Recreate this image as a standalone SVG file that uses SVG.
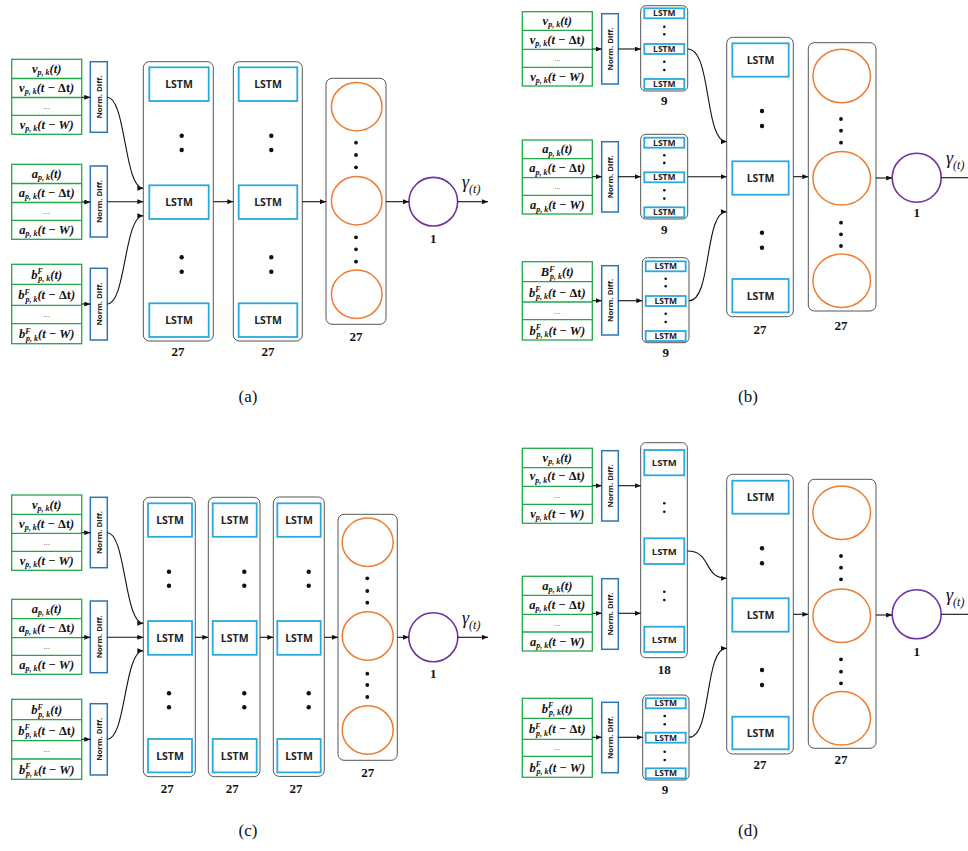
<svg xmlns="http://www.w3.org/2000/svg" width="968" height="851" viewBox="0 0 968 851">
<style>
.tb{fill:none;stroke:#22a84b;stroke-width:1.3}
.nd{fill:#fff;stroke:#2e75b6;stroke-width:1.5}
.ndt{font-family:"Open Sans","Liberation Sans",sans-serif;font-weight:700;font-size:7.8px;text-anchor:middle;fill:#222}
.col{fill:#fff;stroke:#555;stroke-width:1}
.ls{fill:#fff;stroke:#2aa9e0;stroke-width:1.8}
.lt{font-family:"Open Sans","Liberation Sans",sans-serif;font-weight:700;font-size:10.5px;text-anchor:middle;fill:#222}
.lts{font-size:8.5px}
.ci{fill:none;stroke:#ed7d31;stroke-width:1.5}
.out{fill:none;stroke:#7030a0;stroke-width:1.6}
.dot{fill:#111}
.num{font-family:"Liberation Serif","DejaVu Serif",serif;font-weight:700;font-size:13px;text-anchor:middle;fill:#111}
.m{font-family:"Liberation Serif","DejaVu Serif",serif;font-weight:700;font-style:italic;font-size:12.5px;text-anchor:middle;fill:#111}
.s{font-size:8px}
.n{font-style:normal}
.e{font-family:"Liberation Sans",sans-serif;font-size:8px;text-anchor:middle;fill:#444}
.cap{font-family:"Liberation Serif","DejaVu Serif",serif;font-size:17px;text-anchor:middle;fill:#111}
.g{font-family:"Liberation Serif","DejaVu Serif",serif;font-style:italic;font-size:18px;fill:#111}
.gs{font-size:12px}
.cn{fill:none;stroke:#111;stroke-width:1.1}
</style>
<defs>
<marker id="ah" markerUnits="userSpaceOnUse" markerWidth="6" markerHeight="5" refX="6" refY="2.5" orient="auto"><path d="M0,0 L6,2.5 L0,5 z" fill="#111"/></marker>
</defs>
<rect width="968" height="851" fill="#fff"/>

<!-- ===== Panel (a) ===== -->
<g id="a-tab-v" transform="translate(11.7,59.3)">
<rect class="tb" width="70" height="75"/><path class="tb" d="M0 19.2H70M0 38.2H70M0 56H70"/>
<text class="m" x="35" y="13.5">v<tspan class="s" dy="2.5">p, k</tspan><tspan dy="-2.5">(t)</tspan></text>
<text class="m" x="35" y="32.5">v<tspan class="s" dy="2.5">p, k</tspan><tspan dy="-2.5">(t − <tspan class="n">Δt</tspan>)</tspan></text>
<text class="e" x="35" y="49.5">...</text>
<text class="m" x="35" y="69.5">v<tspan class="s" dy="2.5">p, k</tspan><tspan dy="-2.5">(t − W)</tspan></text>
</g>
<g id="a-tab-a" transform="translate(11.7,164.3)">
<rect class="tb" width="70" height="75"/><path class="tb" d="M0 19.2H70M0 38.2H70M0 56H70"/>
<text class="m" x="35" y="13.5">a<tspan class="s" dy="2.5">p, k</tspan><tspan dy="-2.5">(t)</tspan></text>
<text class="m" x="35" y="32.5">a<tspan class="s" dy="2.5">p, k</tspan><tspan dy="-2.5">(t − <tspan class="n">Δt</tspan>)</tspan></text>
<text class="e" x="35" y="49.5">...</text>
<text class="m" x="35" y="69.5">a<tspan class="s" dy="2.5">p, k</tspan><tspan dy="-2.5">(t − W)</tspan></text>
</g>
<g id="a-tab-b" transform="translate(11.7,264.3)">
<rect class="tb" width="70" height="79.4"/><path class="tb" d="M0 20H70M0 41H70M0 59.3H70"/>
<text class="m" x="35" y="14.5">b<tspan class="s" dy="-4.5">F</tspan><tspan class="s" dx="-4.5" dy="7">p, k</tspan><tspan dy="-2.5">(t)</tspan></text>
<text class="m" x="35" y="35">b<tspan class="s" dy="-4.5">F</tspan><tspan class="s" dx="-4.5" dy="7">p, k</tspan><tspan dy="-2.5">(t − <tspan class="n">Δt</tspan>)</tspan></text>
<text class="e" x="35" y="52.5">...</text>
<text class="m" x="35" y="74">b<tspan class="s" dy="-4.5">F</tspan><tspan class="s" dx="-4.5" dy="7">p, k</tspan><tspan dy="-2.5">(t − W)</tspan></text>
</g>
<g id="a-norm-1"><rect class="nd" x="90.3" y="61.7" width="17" height="70.6"/><text class="ndt" transform="translate(98.8,97) rotate(-90)" y="2.8">Norm. Diff.</text></g>
<g id="a-norm-2"><rect class="nd" x="90.3" y="166" width="17" height="71"/><text class="ndt" transform="translate(98.8,201.5) rotate(-90)" y="2.8">Norm. Diff.</text></g>
<g id="a-norm-3"><rect class="nd" x="90.3" y="268.3" width="17" height="71.7"/><text class="ndt" transform="translate(98.8,304) rotate(-90)" y="2.8">Norm. Diff.</text></g>
<g id="a-lstm-1">
<rect class="col" x="143.3" y="61.7" width="70" height="279.3" rx="6"/>
<rect class="ls" x="149.3" y="67.3" width="59.4" height="33.7"/><text class="lt" x="179" y="88">LSTM</text>
<rect class="ls" x="149.3" y="185.3" width="59.4" height="33.7"/><text class="lt" x="179" y="206">LSTM</text>
<rect class="ls" x="149.3" y="303.3" width="59.4" height="33.7"/><text class="lt" x="179" y="324">LSTM</text>
<circle class="dot" cx="181.7" cy="135.7" r="2.2"/><circle class="dot" cx="181.7" cy="150" r="2.2"/><circle class="dot" cx="181.7" cy="257.3" r="2.2"/><circle class="dot" cx="181.7" cy="271.7" r="2.2"/>
<text class="num" x="178" y="356">27</text>
</g>
<g id="a-lstm-2">
<rect class="col" x="233.3" y="61.7" width="69" height="279.3" rx="6"/>
<rect class="ls" x="238.7" y="67.3" width="58.6" height="33.7"/><text class="lt" x="268" y="88">LSTM</text>
<rect class="ls" x="238.7" y="185.3" width="58.6" height="33.7"/><text class="lt" x="268" y="206">LSTM</text>
<rect class="ls" x="238.7" y="303.3" width="58.6" height="33.7"/><text class="lt" x="268" y="324">LSTM</text>
<circle class="dot" cx="271.3" cy="135.7" r="2.2"/><circle class="dot" cx="271.3" cy="150" r="2.2"/><circle class="dot" cx="271.3" cy="257.3" r="2.2"/><circle class="dot" cx="271.3" cy="271.7" r="2.2"/>
<text class="num" x="268" y="356">27</text>
</g>
<g id="a-dense">
<rect class="col" x="326" y="78.3" width="60" height="246" rx="6"/>
<ellipse class="ci" cx="356.7" cy="106.7" rx="25.3" ry="24.2"/><ellipse class="ci" cx="356.7" cy="200.7" rx="25.3" ry="24.2"/><ellipse class="ci" cx="356.7" cy="294.3" rx="25.3" ry="24.2"/>
<circle class="dot" cx="356" cy="142.7" r="1.9"/><circle class="dot" cx="356" cy="155" r="1.9"/><circle class="dot" cx="356" cy="167.3" r="1.9"/>
<circle class="dot" cx="356" cy="237.3" r="1.9"/><circle class="dot" cx="356" cy="249.3" r="1.9"/><circle class="dot" cx="356" cy="261.7" r="1.9"/>
<text class="num" x="356" y="341">27</text>
</g>
<g id="a-out">
<circle class="out" cx="433.3" cy="201.7" r="24.3"/>
<text class="num" x="433.3" y="243">1</text>
<text class="g" x="462" y="188">γ<tspan class="gs" dy="5">(t)</tspan></text>
</g>
<text class="cap" x="248" y="402">(a)</text>

<!-- ===== Panel (b) ===== -->
<g id="b-tab-v" transform="translate(522.3,11.7)">
<rect class="tb" width="70" height="74.3"/><path class="tb" d="M0 18.6H70M0 37.6H70M0 55.6H70"/>
<text class="m" x="35" y="13.2">v<tspan class="s" dy="2.5">p, k</tspan><tspan dy="-2.5">(t)</tspan></text>
<text class="m" x="35" y="32">v<tspan class="s" dy="2.5">p, k</tspan><tspan dy="-2.5">(t − <tspan class="n">Δt</tspan>)</tspan></text>
<text class="e" x="35" y="49">...</text>
<text class="m" x="35" y="69">v<tspan class="s" dy="2.5">p, k</tspan><tspan dy="-2.5">(t − W)</tspan></text>
</g>
<g id="b-tab-a" transform="translate(522.3,140)">
<rect class="tb" width="70" height="74"/><path class="tb" d="M0 18.7H70M0 37.7H70M0 55.3H70"/>
<text class="m" x="35" y="13.2">a<tspan class="s" dy="2.5">p, k</tspan><tspan dy="-2.5">(t)</tspan></text>
<text class="m" x="35" y="32">a<tspan class="s" dy="2.5">p, k</tspan><tspan dy="-2.5">(t − <tspan class="n">Δt</tspan>)</tspan></text>
<text class="e" x="35" y="49">...</text>
<text class="m" x="35" y="69">a<tspan class="s" dy="2.5">p, k</tspan><tspan dy="-2.5">(t − W)</tspan></text>
</g>
<g id="b-tab-b" transform="translate(522.3,261.7)">
<rect class="tb" width="70" height="78.3"/><path class="tb" d="M0 20H70M0 40.3H70M0 58H70"/>
<text class="m" x="35" y="14.5">B<tspan class="s" dy="-4.5">F</tspan><tspan class="s" dx="-4.5" dy="7">p, k</tspan><tspan dy="-2.5">(t)</tspan></text>
<text class="m" x="35" y="35">b<tspan class="s" dy="-4.5">F</tspan><tspan class="s" dx="-4.5" dy="7">p, k</tspan><tspan dy="-2.5">(t − <tspan class="n">Δt</tspan>)</tspan></text>
<text class="e" x="35" y="52">...</text>
<text class="m" x="35" y="73">b<tspan class="s" dy="-4.5">F</tspan><tspan class="s" dx="-4.5" dy="7">p, k</tspan><tspan dy="-2.5">(t − W)</tspan></text>
</g>
<g id="b-norm-1"><rect class="nd" x="601.7" y="13.7" width="16.6" height="70.3"/><text class="ndt" transform="translate(610,48.9) rotate(-90)" y="2.8">Norm. Diff.</text></g>
<g id="b-norm-2"><rect class="nd" x="601.7" y="141.7" width="16.6" height="70.3"/><text class="ndt" transform="translate(610,176.8) rotate(-90)" y="2.8">Norm. Diff.</text></g>
<g id="b-norm-3"><rect class="nd" x="601.7" y="265.7" width="16.6" height="69.3"/><text class="ndt" transform="translate(610,300.4) rotate(-90)" y="2.8">Norm. Diff.</text></g>
<g id="b-lstm-v">
<rect class="col" x="640.7" y="5.7" width="47" height="85.3" rx="5"/>
<rect class="ls" x="644.3" y="8.3" width="40" height="10"/><text class="lt lts" x="664.3" y="16.4">LSTM</text>
<rect class="ls" x="644.3" y="44" width="40" height="10"/><text class="lt lts" x="664.3" y="52.1">LSTM</text>
<rect class="ls" x="644.3" y="79" width="40" height="10"/><text class="lt lts" x="664.3" y="87.1">LSTM</text>
<circle class="dot" cx="664.3" cy="26.7" r="1.3"/><circle class="dot" cx="664.3" cy="34.3" r="1.3"/><circle class="dot" cx="664.3" cy="61.7" r="1.3"/><circle class="dot" cx="664.3" cy="70" r="1.3"/>
<text class="num" x="664.3" y="104.5">9</text>
</g>
<g id="b-lstm-a">
<rect class="col" x="640.7" y="134.3" width="47" height="84.7" rx="5"/>
<rect class="ls" x="644.3" y="137.7" width="40" height="10"/><text class="lt lts" x="664.3" y="145.8">LSTM</text>
<rect class="ls" x="644.3" y="172.3" width="40" height="10"/><text class="lt lts" x="664.3" y="180.4">LSTM</text>
<rect class="ls" x="644.3" y="207.3" width="40" height="10"/><text class="lt lts" x="664.3" y="215.4">LSTM</text>
<circle class="dot" cx="664.3" cy="155.3" r="1.3"/><circle class="dot" cx="664.3" cy="162.9" r="1.3"/><circle class="dot" cx="664.3" cy="190.3" r="1.3"/><circle class="dot" cx="664.3" cy="198.6" r="1.3"/>
<text class="num" x="664.3" y="233.5">9</text>
</g>
<g id="b-lstm-b">
<rect class="col" x="642.3" y="257.7" width="46.7" height="85" rx="5"/>
<rect class="ls" x="645.7" y="261.3" width="40" height="10"/><text class="lt lts" x="665.7" y="269.4">LSTM</text>
<rect class="ls" x="645.7" y="296" width="40" height="10"/><text class="lt lts" x="665.7" y="304.1">LSTM</text>
<rect class="ls" x="645.7" y="331" width="40" height="10"/><text class="lt lts" x="665.7" y="339.1">LSTM</text>
<circle class="dot" cx="665.7" cy="278.7" r="1.3"/><circle class="dot" cx="665.7" cy="286.3" r="1.3"/><circle class="dot" cx="665.7" cy="313.7" r="1.3"/><circle class="dot" cx="665.7" cy="322" r="1.3"/>
<text class="num" x="665.7" y="357">9</text>
</g>
<g id="b-lstm-big">
<rect class="col" x="726.7" y="37.3" width="66.6" height="279.4" rx="6"/>
<rect class="ls" x="732.3" y="43.3" width="56.4" height="33.4"/><text class="lt" x="760.5" y="63.8">LSTM</text>
<rect class="ls" x="732.3" y="161.3" width="56.4" height="33.4"/><text class="lt" x="760.5" y="181.8">LSTM</text>
<rect class="ls" x="732.3" y="279" width="56.4" height="33.4"/><text class="lt" x="760.5" y="299.5">LSTM</text>
<circle class="dot" cx="762" cy="111" r="2.2"/><circle class="dot" cx="762" cy="126" r="2.2"/><circle class="dot" cx="762" cy="232.7" r="2.2"/><circle class="dot" cx="762" cy="247.7" r="2.2"/>
<text class="num" x="760" y="334">27</text>
</g>
<g id="b-dense">
<rect class="col" x="808.3" y="42.7" width="67.7" height="268.3" rx="6"/>
<ellipse class="ci" cx="841.7" cy="76" rx="28.8" ry="26.7"/><ellipse class="ci" cx="841.7" cy="178.3" rx="28.8" ry="26.7"/><ellipse class="ci" cx="841.7" cy="280.7" rx="28.8" ry="26.7"/>
<circle class="dot" cx="841" cy="119" r="1.9"/><circle class="dot" cx="841" cy="130.7" r="1.9"/><circle class="dot" cx="841" cy="142.7" r="1.9"/>
<circle class="dot" cx="841" cy="222.7" r="1.9"/><circle class="dot" cx="841" cy="234.3" r="1.9"/><circle class="dot" cx="841" cy="246" r="1.9"/>
<text class="num" x="841" y="330">27</text>
</g>
<g id="b-out">
<circle class="out" cx="916.7" cy="177.7" r="24.5"/>
<text class="num" x="916.7" y="217">1</text>
<text class="g" x="946" y="164">γ<tspan class="gs" dy="5">(t)</tspan></text>
</g>
<text class="cap" x="748" y="402">(b)</text>

<!-- ===== Panel (c) ===== -->
<g id="c-tab-v" transform="translate(11.7,495)">
<rect class="tb" width="70" height="75.3"/><path class="tb" d="M0 19.3H70M0 38.3H70M0 56.3H70"/>
<text class="m" x="35" y="13.5">v<tspan class="s" dy="2.5">p, k</tspan><tspan dy="-2.5">(t)</tspan></text>
<text class="m" x="35" y="32.5">v<tspan class="s" dy="2.5">p, k</tspan><tspan dy="-2.5">(t − <tspan class="n">Δt</tspan>)</tspan></text>
<text class="e" x="35" y="49.5">...</text>
<text class="m" x="35" y="69.8">v<tspan class="s" dy="2.5">p, k</tspan><tspan dy="-2.5">(t − W)</tspan></text>
</g>
<g id="c-tab-a" transform="translate(11.7,599.3)">
<rect class="tb" width="70" height="75"/><path class="tb" d="M0 19.4H70M0 38.4H70M0 56H70"/>
<text class="m" x="35" y="13.5">a<tspan class="s" dy="2.5">p, k</tspan><tspan dy="-2.5">(t)</tspan></text>
<text class="m" x="35" y="32.5">a<tspan class="s" dy="2.5">p, k</tspan><tspan dy="-2.5">(t − <tspan class="n">Δt</tspan>)</tspan></text>
<text class="e" x="35" y="49.5">...</text>
<text class="m" x="35" y="69.5">a<tspan class="s" dy="2.5">p, k</tspan><tspan dy="-2.5">(t − W)</tspan></text>
</g>
<g id="c-tab-b" transform="translate(11.7,699.3)">
<rect class="tb" width="70" height="80"/><path class="tb" d="M0 20.4H70M0 41.4H70M0 59.7H70"/>
<text class="m" x="35" y="14.8">b<tspan class="s" dy="-4.5">F</tspan><tspan class="s" dx="-4.5" dy="7">p, k</tspan><tspan dy="-2.5">(t)</tspan></text>
<text class="m" x="35" y="35.5">b<tspan class="s" dy="-4.5">F</tspan><tspan class="s" dx="-4.5" dy="7">p, k</tspan><tspan dy="-2.5">(t − <tspan class="n">Δt</tspan>)</tspan></text>
<text class="e" x="35" y="53">...</text>
<text class="m" x="35" y="74.5">b<tspan class="s" dy="-4.5">F</tspan><tspan class="s" dx="-4.5" dy="7">p, k</tspan><tspan dy="-2.5">(t − W)</tspan></text>
</g>
<g id="c-norm-1"><rect class="nd" x="90.3" y="497.3" width="17" height="70.4"/><text class="ndt" transform="translate(98.8,532.5) rotate(-90)" y="2.8">Norm. Diff.</text></g>
<g id="c-norm-2"><rect class="nd" x="90.3" y="601" width="17" height="71.7"/><text class="ndt" transform="translate(98.8,636.8) rotate(-90)" y="2.8">Norm. Diff.</text></g>
<g id="c-norm-3"><rect class="nd" x="90.3" y="703.7" width="17" height="71.3"/><text class="ndt" transform="translate(98.8,739.3) rotate(-90)" y="2.8">Norm. Diff.</text></g>
<g id="c-lstm-1">
<rect class="col" x="143.3" y="497.3" width="52" height="279.4" rx="6"/>
<rect class="ls" x="148" y="503.3" width="44" height="33.5"/><text class="lt" x="170" y="523.9">LSTM</text>
<rect class="ls" x="148" y="621" width="44" height="33.8"/><text class="lt" x="170" y="641.7">LSTM</text>
<rect class="ls" x="148" y="739" width="44" height="33.4"/><text class="lt" x="170" y="759.6">LSTM</text>
<circle class="dot" cx="169" cy="571.7" r="2.2"/><circle class="dot" cx="169" cy="585.7" r="2.2"/><circle class="dot" cx="169" cy="693.3" r="2.2"/><circle class="dot" cx="169" cy="707.3" r="2.2"/>
<text class="num" x="167.3" y="793">27</text>
</g>
<g id="c-lstm-2">
<rect class="col" x="208.3" y="497.3" width="51.7" height="279.4" rx="6"/>
<rect class="ls" x="212.7" y="503.3" width="44" height="33.5"/><text class="lt" x="234.7" y="523.9">LSTM</text>
<rect class="ls" x="212.7" y="621" width="44" height="33.8"/><text class="lt" x="234.7" y="641.7">LSTM</text>
<rect class="ls" x="212.7" y="739" width="44" height="33.4"/><text class="lt" x="234.7" y="759.6">LSTM</text>
<circle class="dot" cx="244.3" cy="571.7" r="2.2"/><circle class="dot" cx="244.3" cy="585.7" r="2.2"/><circle class="dot" cx="244.3" cy="693.3" r="2.2"/><circle class="dot" cx="244.3" cy="707.3" r="2.2"/>
<text class="num" x="232.3" y="793">27</text>
</g>
<g id="c-lstm-3">
<rect class="col" x="273.3" y="497" width="51" height="279.4" rx="6"/>
<rect class="ls" x="277.3" y="503.3" width="43.4" height="33.5"/><text class="lt" x="299" y="523.9">LSTM</text>
<rect class="ls" x="277.3" y="621" width="43.4" height="33.8"/><text class="lt" x="299" y="641.7">LSTM</text>
<rect class="ls" x="277.3" y="739" width="43.4" height="33.4"/><text class="lt" x="299" y="759.6">LSTM</text>
<circle class="dot" cx="308.7" cy="571.7" r="2.2"/><circle class="dot" cx="308.7" cy="585.7" r="2.2"/><circle class="dot" cx="308.7" cy="693.3" r="2.2"/><circle class="dot" cx="308.7" cy="707.3" r="2.2"/>
<text class="num" x="296" y="792.5">27</text>
</g>
<g id="c-dense">
<rect class="col" x="338" y="514.3" width="59.3" height="246" rx="6"/>
<ellipse class="ci" cx="367.7" cy="542.3" rx="25.5" ry="24.2"/><ellipse class="ci" cx="367.7" cy="636" rx="25.5" ry="24.2"/><ellipse class="ci" cx="367.7" cy="730" rx="25.5" ry="24.2"/>
<circle class="dot" cx="367.3" cy="578.3" r="1.9"/><circle class="dot" cx="367.3" cy="591" r="1.9"/><circle class="dot" cx="367.3" cy="602.7" r="1.9"/>
<circle class="dot" cx="367.3" cy="673.7" r="1.9"/><circle class="dot" cx="367.3" cy="685" r="1.9"/><circle class="dot" cx="367.3" cy="697" r="1.9"/>
<text class="num" x="367.7" y="776.5">27</text>
</g>
<g id="c-out">
<circle class="out" cx="433.3" cy="637.3" r="24.5"/>
<text class="num" x="433.3" y="678">1</text>
<text class="g" x="462" y="623.5">γ<tspan class="gs" dy="5">(t)</tspan></text>
</g>
<text class="cap" x="248" y="836">(c)</text>

<!-- ===== Panel (d) ===== -->
<g id="d-tab-v" transform="translate(522.3,448.3)">
<rect class="tb" width="70" height="75"/><path class="tb" d="M0 19.4H70M0 38H70M0 56H70"/>
<text class="m" x="35" y="13.5">v<tspan class="s" dy="2.5">p, k</tspan><tspan dy="-2.5">(t)</tspan></text>
<text class="m" x="35" y="32.2">v<tspan class="s" dy="2.5">p, k</tspan><tspan dy="-2.5">(t − <tspan class="n">Δt</tspan>)</tspan></text>
<text class="e" x="35" y="49.5">...</text>
<text class="m" x="35" y="69.5">v<tspan class="s" dy="2.5">p, k</tspan><tspan dy="-2.5">(t − W)</tspan></text>
</g>
<g id="d-tab-a" transform="translate(522.3,576.3)">
<rect class="tb" width="70" height="74.7"/><path class="tb" d="M0 19H70M0 38H70M0 55.7H70"/>
<text class="m" x="35" y="13.3">a<tspan class="s" dy="2.5">p, k</tspan><tspan dy="-2.5">(t)</tspan></text>
<text class="m" x="35" y="32.3">a<tspan class="s" dy="2.5">p, k</tspan><tspan dy="-2.5">(t − <tspan class="n">Δt</tspan>)</tspan></text>
<text class="e" x="35" y="49.3">...</text>
<text class="m" x="35" y="69.3">a<tspan class="s" dy="2.5">p, k</tspan><tspan dy="-2.5">(t − W)</tspan></text>
</g>
<g id="d-tab-b" transform="translate(522.3,698.3)">
<rect class="tb" width="70" height="79"/><path class="tb" d="M0 20H70M0 41H70M0 58H70"/>
<text class="m" x="35" y="14.5">b<tspan class="s" dy="-4.5">F</tspan><tspan class="s" dx="-4.5" dy="7">p, k</tspan><tspan dy="-2.5">(t)</tspan></text>
<text class="m" x="35" y="35">b<tspan class="s" dy="-4.5">F</tspan><tspan class="s" dx="-4.5" dy="7">p, k</tspan><tspan dy="-2.5">(t − <tspan class="n">Δt</tspan>)</tspan></text>
<text class="e" x="35" y="52">...</text>
<text class="m" x="35" y="73.5">b<tspan class="s" dy="-4.5">F</tspan><tspan class="s" dx="-4.5" dy="7">p, k</tspan><tspan dy="-2.5">(t − W)</tspan></text>
</g>
<g id="d-norm-1"><rect class="nd" x="601.7" y="450.7" width="16.6" height="70.3"/><text class="ndt" transform="translate(610,485.9) rotate(-90)" y="2.8">Norm. Diff.</text></g>
<g id="d-norm-2"><rect class="nd" x="601.7" y="578.7" width="16.6" height="70.6"/><text class="ndt" transform="translate(610,614) rotate(-90)" y="2.8">Norm. Diff.</text></g>
<g id="d-norm-3"><rect class="nd" x="601.7" y="702.3" width="16.6" height="70.4"/><text class="ndt" transform="translate(610,737.5) rotate(-90)" y="2.8">Norm. Diff.</text></g>
<g id="d-lstm-18">
<rect class="col" x="640.7" y="442.7" width="46.6" height="215" rx="5"/>
<rect class="ls" x="644.3" y="450" width="40" height="25.3"/><text class="lt" x="664.3" y="466.2" style="font-size:9.5px">LSTM</text>
<rect class="ls" x="644.3" y="538.3" width="40" height="25.7"/><text class="lt" x="664.3" y="554.6" style="font-size:9.5px">LSTM</text>
<rect class="ls" x="644.3" y="626.7" width="40" height="25.3"/><text class="lt" x="664.3" y="642.8" style="font-size:9.5px">LSTM</text>
<circle class="dot" cx="664.3" cy="503.3" r="1.3"/><circle class="dot" cx="664.3" cy="511.7" r="1.3"/><circle class="dot" cx="664.3" cy="591.7" r="1.3"/><circle class="dot" cx="664.3" cy="600" r="1.3"/>
<text class="num" x="664.3" y="673.5">18</text>
</g>
<g id="d-lstm-9">
<rect class="col" x="642.7" y="695" width="46.3" height="85" rx="5"/>
<rect class="ls" x="645.7" y="698.3" width="40" height="10"/><text class="lt lts" x="665.7" y="706.4">LSTM</text>
<rect class="ls" x="645.7" y="732.7" width="40" height="10"/><text class="lt lts" x="665.7" y="740.8">LSTM</text>
<rect class="ls" x="645.7" y="768.3" width="40" height="10"/><text class="lt lts" x="665.7" y="776.4">LSTM</text>
<circle class="dot" cx="664.7" cy="716" r="1.3"/><circle class="dot" cx="664.7" cy="724.3" r="1.3"/><circle class="dot" cx="664.7" cy="751.7" r="1.3"/><circle class="dot" cx="664.7" cy="760" r="1.3"/>
<text class="num" x="665" y="793.5">9</text>
</g>
<g id="d-lstm-big">
<rect class="col" x="726.7" y="474.3" width="66.6" height="279.7" rx="6"/>
<rect class="ls" x="732.3" y="480.7" width="56.4" height="33"/><text class="lt" x="760.5" y="501">LSTM</text>
<rect class="ls" x="732.3" y="598.3" width="56.4" height="33.4"/><text class="lt" x="760.5" y="618.8">LSTM</text>
<rect class="ls" x="732.3" y="716.7" width="56.4" height="32.6"/><text class="lt" x="760.5" y="736.8">LSTM</text>
<circle class="dot" cx="762" cy="548.3" r="2.2"/><circle class="dot" cx="762" cy="563.3" r="2.2"/><circle class="dot" cx="762" cy="670" r="2.2"/><circle class="dot" cx="762" cy="685" r="2.2"/>
<text class="num" x="760" y="769">27</text>
</g>
<g id="d-dense">
<rect class="col" x="808.3" y="479.3" width="67.7" height="269" rx="6"/>
<ellipse class="ci" cx="841.7" cy="512.7" rx="28.8" ry="26.7"/><ellipse class="ci" cx="841.7" cy="615.7" rx="28.8" ry="26.7"/><ellipse class="ci" cx="841.7" cy="718.3" rx="28.8" ry="26.7"/>
<circle class="dot" cx="841" cy="556" r="1.9"/><circle class="dot" cx="841" cy="567.7" r="1.9"/><circle class="dot" cx="841" cy="579.3" r="1.9"/>
<circle class="dot" cx="841" cy="659.3" r="1.9"/><circle class="dot" cx="841" cy="671.7" r="1.9"/><circle class="dot" cx="841" cy="683.3" r="1.9"/>
<text class="num" x="841" y="764">27</text>
</g>
<g id="d-out">
<circle class="out" cx="916.7" cy="614.3" r="24.5"/>
<text class="num" x="916.7" y="656">1</text>
<text class="g" x="946" y="600.5">γ<tspan class="gs" dy="5">(t)</tspan></text>
</g>
<text class="cap" x="748" y="836">(d)</text>

<!-- ===== Connectors ===== -->
<g id="connectors">
<path class="cn" marker-end="url(#ah)" d="M81.7 97.3H90.3"/>
<path class="cn" marker-end="url(#ah)" d="M81.7 202H90.3"/>
<path class="cn" marker-end="url(#ah)" d="M81.7 304H90.3"/>
<path class="cn" marker-end="url(#ah)" d="M107.3 97.3C126 97.3 124 188.3 143.3 188.3"/>
<path class="cn" marker-end="url(#ah)" d="M107.3 201.7H143.3"/>
<path class="cn" marker-end="url(#ah)" d="M107.3 304C126 304 124 215.7 143.3 215.7"/>
<path class="cn" marker-end="url(#ah)" d="M213.3 201.7H233.3"/>
<path class="cn" marker-end="url(#ah)" d="M302.3 201.7H326"/>
<path class="cn" marker-end="url(#ah)" d="M386 201.7H409"/>
<path class="cn" marker-end="url(#ah)" d="M457.6 201.7H488"/>

<path class="cn" marker-end="url(#ah)" d="M592.3 49H601.7"/>
<path class="cn" marker-end="url(#ah)" d="M592.3 176.7H601.7"/>
<path class="cn" marker-end="url(#ah)" d="M592.3 300.7H601.7"/>
<path class="cn" marker-end="url(#ah)" d="M618.3 49H640.7"/>
<path class="cn" marker-end="url(#ah)" d="M618.3 176.7H640.7"/>
<path class="cn" marker-end="url(#ah)" d="M618.3 300.7H642.3"/>
<path class="cn" marker-end="url(#ah)" d="M687.7 49C712 49 704 141.7 726.7 141.7"/>
<path class="cn" marker-end="url(#ah)" d="M687.7 176.7H726.7"/>
<path class="cn" marker-end="url(#ah)" d="M689 300.7C712 300.7 704 211.7 726.7 211.7"/>
<path class="cn" marker-end="url(#ah)" d="M793.3 176.7H808.3"/>
<path class="cn" marker-end="url(#ah)" d="M876 178H892.2"/>
<path class="cn" d="M941.2 177.7H968"/>

<path class="cn" marker-end="url(#ah)" d="M81.7 532.7H90.3"/>
<path class="cn" marker-end="url(#ah)" d="M81.7 637.3H90.3"/>
<path class="cn" marker-end="url(#ah)" d="M81.7 739.3H90.3"/>
<path class="cn" marker-end="url(#ah)" d="M107.3 532.7C126 532.7 124 623.3 143.3 623.3"/>
<path class="cn" marker-end="url(#ah)" d="M107.3 637.3H143.3"/>
<path class="cn" marker-end="url(#ah)" d="M107.3 739.3C126 739.3 124 650.7 143.3 650.7"/>
<path class="cn" marker-end="url(#ah)" d="M195.3 637.3H208.3"/>
<path class="cn" marker-end="url(#ah)" d="M260 637.3H273.3"/>
<path class="cn" marker-end="url(#ah)" d="M324.3 637.3H338"/>
<path class="cn" marker-end="url(#ah)" d="M397.3 637.3H409"/>
<path class="cn" marker-end="url(#ah)" d="M457.8 637.3H488"/>

<path class="cn" marker-end="url(#ah)" d="M592.3 485.7H601.7"/>
<path class="cn" marker-end="url(#ah)" d="M592.3 613.3H601.7"/>
<path class="cn" marker-end="url(#ah)" d="M592.3 737.3H601.7"/>
<path class="cn" marker-end="url(#ah)" d="M618.3 485.7H640.7"/>
<path class="cn" marker-end="url(#ah)" d="M618.3 613.3H640.7"/>
<path class="cn" marker-end="url(#ah)" d="M618.3 737.3H642.7"/>
<path class="cn" marker-end="url(#ah)" d="M687.3 551C712 551 703 578.3 726.7 578.3"/>
<path class="cn" marker-end="url(#ah)" d="M689 737.3C712 737.3 704 648.3 726.7 648.3"/>
<path class="cn" marker-end="url(#ah)" d="M793.3 614.3H808.3"/>
<path class="cn" marker-end="url(#ah)" d="M876 615H892.2"/>
<path class="cn" d="M941.2 614.3H968"/>
</g>
</svg>
